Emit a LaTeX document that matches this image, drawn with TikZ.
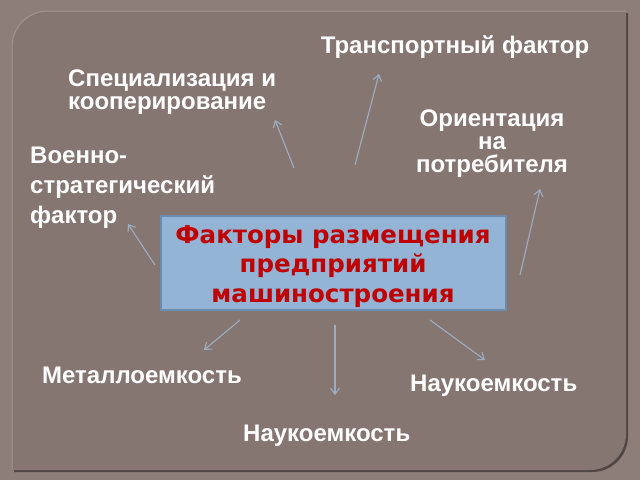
\documentclass[tikz,border=0pt]{standalone}
\usepackage{fontspec}
\setmainfont{Liberation Sans}
\newfontfamily\boxfont{DejaVu Sans}
\usetikzlibrary{arrows.meta}
\definecolor{outerbg}{HTML}{8E7E79}
\definecolor{panelbg}{HTML}{867671}
\definecolor{arrowc}{HTML}{9DAEC2}
\definecolor{boxfill}{HTML}{94B4D5}
\definecolor{boxedge}{HTML}{6D8CB2}
\definecolor{titlered}{HTML}{C00000}
\tikzset{
  lbl/.style={text=white,font=\fontsize{24}{23}\selectfont\bfseries,inner sep=0pt},
  conn/.style={draw=arrowc,line width=1.1pt,-{Straight Barb[length=6pt,width=9pt]}},
}
\begin{document}
\begin{tikzpicture}[x=1pt,y=-1pt]
\useasboundingbox (0,0) rectangle (640,480);
\fill[outerbg] (0,0) rectangle (640,480);
% panel shadow
\fill[black!40!panelbg] (14,49) .. controls (14,29) and (30,13) .. (50,13) -- (628,13) -- (628,436) .. controls (628,456) and (612,472) .. (592,472) -- (14,472) -- cycle;
% panel
\fill[panelbg] (12,47) .. controls (12,27) and (28,11) .. (48,11) -- (626,11) -- (626,434) .. controls (626,454) and (610,470) .. (590,470) -- (12,470) -- cycle;
\draw[white!22!panelbg,line width=1pt] (12,470) -- (12,47) .. controls (12,27) and (28,11) .. (48,11) -- (626,11);
% central box
\node[draw=boxedge,line width=2pt,fill=boxfill,minimum width=345,minimum height=94,inner sep=0pt,anchor=north west] (box) at (160,215) {};
\node[text=titlered,font=\boxfont\fontsize{24.5}{29.5}\selectfont\bfseries,align=center,inner sep=0pt,anchor=north] (title) at (333,225) {Факторы размещения\\предприятий\\машиностроения};
% labels
\node[lbl,anchor=base] (transp) at (455,53) {Транспортный фактор};
\node[lbl,anchor=north west,align=left] (spec) at (68,70) {Специализация и\\ кооперирование};
\node[lbl,anchor=north,align=center] (orient) at (492,110) {Ориентация\\на\\потребителя};
\node[lbl,anchor=north west,align=left,font=\fontsize{24}{30}\selectfont\bfseries] (voen) at (30,147) {Военно-\\стратегический\\фактор};
\node[lbl,anchor=base west] (metal) at (42,383) {Металлоемкость};
\node[lbl,anchor=base west] (nauka1) at (410,391) {Наукоемкость};
\node[lbl,anchor=base west] (nauka2) at (243,441) {Наукоемкость};
% arrow endpoints
\coordinate (a1s) at (155,265); \coordinate (a1e) at (128,224);
\coordinate (a2s) at (294,168); \coordinate (a2e) at (275,120);
\coordinate (a3s) at (355,165); \coordinate (a3e) at (379,74);
\coordinate (a4s) at (520,275); \coordinate (a4e) at (540,189);
\coordinate (a5s) at (240,320); \coordinate (a5e) at (204,350);
\coordinate (a6s) at (335,325); \coordinate (a6e) at (335,395);
\coordinate (a7s) at (430,320); \coordinate (a7e) at (485,360);
\draw[conn] (a1s) -- (a1e);
\draw[conn] (a2s) -- (a2e);
\draw[conn] (a3s) -- (a3e);
\draw[conn] (a4s) -- (a4e);
\draw[conn] (a5s) -- (a5e);
\draw[conn] (a6s) -- (a6e);
\draw[conn] (a7s) -- (a7e);
\end{tikzpicture}
\end{document}
